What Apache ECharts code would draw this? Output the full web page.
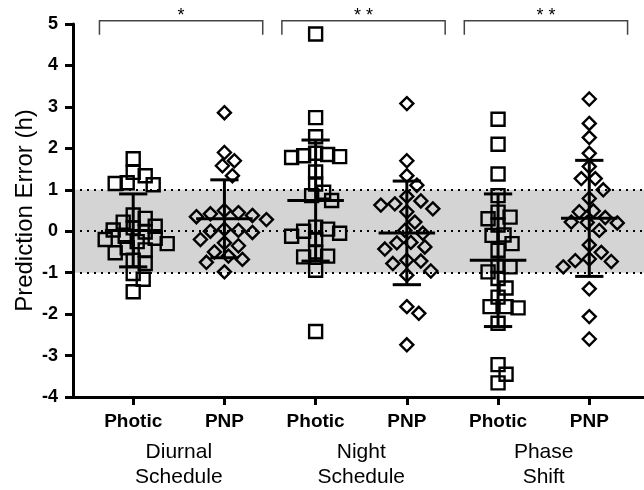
<!DOCTYPE html>
<html>
<head>
<meta charset="utf-8">
<script src="https://cdn.jsdelivr.net/npm/echarts@6/dist/echarts.min.js"></script>
<style>
html,body{margin:0;padding:0;background:#fff}
#chart{width:644px;height:490px}
</style>
</head>
<body>
<div id="chart"></div>
<script>
// tick / group labels
var categories = ['Photic', 'PNP', 'Photic', 'PNP', 'Photic', 'PNP'];
var groupNames = ['Diurnal\nSchedule', 'Night\nSchedule', 'Phase\nShift'];

// prediction errors (h)
var photicDiurnal = [1.75, 1.42, 1.34, 1.17, 1.15, 1.12, 0.39, 0.31, 0.22, 0.12, 0.08, 0.03, -0.02, -0.12, -0.17, -0.2, -0.25, -0.3, -0.4, -0.45, -0.52, -0.7, -0.78, -1.02, -1.16, -1.46];
var pnpDiurnal = [2.86, 1.9, 1.7, 1.58, 1.34, 0.5, 0.45, 0.42, 0.38, 0.35, 0.28, 0.05, 0.02, 0.0, -0.03, -0.2, -0.28, -0.35, -0.5, -0.6, -0.68, -0.75, -0.98];
var photicNight = [4.76, 2.74, 2.28, 1.88, 1.85, 1.82, 1.8, 1.78, 1.43, 1.14, 0.94, 0.86, 0.74, 0.1, 0.05, 0.0, -0.05, -0.12, -0.2, -0.5, -0.6, -0.62, -0.94, -2.42];
var pnpNight = [3.08, 1.7, 1.34, 1.11, 0.84, 0.73, 0.66, 0.63, 0.54, 0.47, 0.22, 0.02, -0.05, -0.27, -0.28, -0.38, -0.43, -0.7, -0.72, -0.78, -0.96, -1.06, -1.82, -1.98, -2.74];
var photicShift = [2.7, 2.1, 1.38, 0.86, 0.46, 0.34, 0.3, 0.15, -0.09, -0.1, -0.3, -0.46, -0.84, -0.86, -0.98, -1.14, -1.37, -1.59, -1.82, -1.82, -1.85, -2.22, -3.22, -3.45, -3.66];
var pnpShift = [3.19, 2.6, 2.26, 1.88, 1.56, 1.27, 1.27, 1.0, 0.79, 0.49, 0.47, 0.33, 0.22, 0.21, 0.2, 0.02, -0.33, -0.51, -0.67, -0.71, -0.73, -0.86, -1.39, -2.06, -2.6];

// mean and SD of each group
var means = [0.02, 0.30, 0.74, -0.04, -0.70, 0.31];
var sds = [0.88, 0.94, 1.46, 1.25, 1.60, 1.40];

// significance brackets
var bracketPairs = [[1, 2], [3, 4], [5, 6]];
var bracketLabels = ['*', '* *', '* *'];

var bandLimits = [-1, 1];
var refLines = [-1, 0, 1];

var chart = echarts.init(document.getElementById('chart'));
var FONT = "'Liberation Sans', Arial, sans-serif";
var xMin = 0.34, xMax = 6.6;
var pxX = (644 - 73) / (xMax - xMin);
var pxY = (490 - 24 - 91) / 9;

// simple beeswarm so overlapping points spread sideways
function swarm(vals, d) {
    var placed = [];
    return vals.map(function (v) {
        var y = v * pxY;
        for (var k = 0; k < 80; k++) {
            var off = (k % 2 ? 1 : -1) * Math.ceil(k / 2) * 2;
            var ok = placed.every(function (p) {
                return Math.hypot(p[0] - off, p[1] - y) >= d;
            });
            if (ok) {
                placed.push([off, y]);
                return off / pxX;
            }
        }
        return 0;
    });
}

var groups = [photicDiurnal, pnpDiurnal, photicNight, pnpNight, photicShift, pnpShift];
var pointSeries = groups.map(function (vals, i) {
    var jit = swarm(vals, i % 2 ? 13 : 11.5);
    return {
        type: 'scatter',
        z: 3,
        silent: true,
        symbol: i % 2 ? 'diamond' : 'rect',
        symbolSize: 13,
        itemStyle: {color: 'rgba(0,0,0,0)', borderColor: '#000', borderWidth: 2.4, opacity: 1},
        data: vals.map(function (v, j) { return [i + 1 + jit[j], v]; })
    };
});

var errorSeries = {
    type: 'custom',
    z: 4,
    silent: true,
    data: means.map(function (m, i) { return [i + 1, m, sds[i]]; }),
    renderItem: function (params, api) {
        var x = api.value(0), m = api.value(1), s = api.value(2);
        var top = api.coord([x, m + s]), bot = api.coord([x, m - s]), mid = api.coord([x, m]);
        var capL = api.coord([x - 0.155, m])[0], capR = api.coord([x + 0.155, m])[0];
        var mL = api.coord([x - 0.31, m])[0], mR = api.coord([x + 0.31, m])[0];
        var st = {stroke: '#000', lineWidth: 3};
        return {type: 'group', children: [
            {type: 'line', shape: {x1: top[0], y1: top[1], x2: bot[0], y2: bot[1]}, style: st},
            {type: 'line', shape: {x1: capL, y1: top[1], x2: capR, y2: top[1]}, style: st},
            {type: 'line', shape: {x1: capL, y1: bot[1], x2: capR, y2: bot[1]}, style: st},
            {type: 'line', shape: {x1: mL, y1: mid[1], x2: mR, y2: mid[1]}, style: st}
        ]};
    }
};

var bracketSeries = {
    type: 'custom',
    z: 4,
    silent: true,
    data: bracketPairs.map(function (b, i) { return [b[0] - 0.37, b[1] + 0.42, i]; }),
    renderItem: function (params, api) {
        var x1 = api.value(0), x2 = api.value(1), idx = api.value(2);
        var a = api.coord([x1, 4.74]), b = api.coord([x1, 5.08]);
        var c = api.coord([x2, 5.08]), d = api.coord([x2, 4.74]);
        var t = api.coord([(x1 + x2) / 2, 5.2]);
        return {type: 'group', children: [
            {type: 'polyline', shape: {points: [a, b, c, d]},
             style: {stroke: '#444', lineWidth: 1.5, fill: null}},
            {type: 'text', x: t[0], y: t[1],
             style: {text: bracketLabels[idx], fill: '#000', font: '18px ' + FONT,
                     align: 'center', verticalAlign: 'middle'}}
        ]};
    }
};

var bandSeries = {
    type: 'line',
    z: 1,
    silent: true,
    data: [],
    markArea: {
        silent: true,
        itemStyle: {color: '#d4d4d4'},
        data: [[{yAxis: bandLimits[0]}, {yAxis: bandLimits[1]}]]
    },
    markLine: {
        silent: true,
        symbol: 'none',
        label: {show: false},
        emphasis: {disabled: true},
        lineStyle: {color: '#000', type: [2, 5], width: 2},
        data: refLines.map(function (v) { return {yAxis: v}; })
    }
};

var option = {
    animation: false,
    grid: {left: 73, right: 0, top: 24, bottom: 91},
    xAxis: [{
        type: 'value',
        min: xMin,
        max: xMax,
        z: 5,
        axisLine: {show: true, onZero: false, lineStyle: {color: '#000', width: 3}},
        axisTick: {show: true, customValues: [1, 2, 3, 4, 5, 6], length: 8, lineStyle: {color: '#000', width: 3}},
        axisLabel: {
            customValues: [1, 2, 3, 4, 5, 6],
            formatter: function (v) { return categories[Math.round(v) - 1]; },
            fontSize: 19, fontWeight: 'bold', color: '#000', fontFamily: FONT, margin: 15
        },
        splitLine: {show: false}
    }, {
        type: 'value',
        min: xMin,
        max: xMax,
        position: 'bottom',
        axisLine: {show: false},
        axisTick: {show: false},
        axisLabel: {
            customValues: [1.5, 3.5, 5.5],
            formatter: function (v) { return groupNames[Math.round((v - 1.5) / 2)]; },
            fontSize: 21, lineHeight: 25, color: '#000', fontFamily: FONT, margin: 43
        },
        splitLine: {show: false}
    }],
    yAxis: {
        type: 'value',
        min: -4,
        max: 5,
        interval: 1,
        z: 5,
        name: 'Prediction Error (h)',
        nameLocation: 'middle',
        nameGap: 36,
        nameMoveOverlap: false,
        nameTextStyle: {fontSize: 24, color: '#000', fontFamily: FONT},
        axisLine: {show: true, onZero: false, lineStyle: {color: '#000', width: 3}},
        axisTick: {show: true, length: 8, lineStyle: {color: '#000', width: 3}},
        axisLabel: {fontSize: 18, fontWeight: 'bold', color: '#000', fontFamily: FONT, margin: 15},
        splitLine: {show: false}
    },
    series: [bandSeries].concat(pointSeries, [errorSeries, bracketSeries])
};

chart.setOption(option);
</script>
</body>
</html>
